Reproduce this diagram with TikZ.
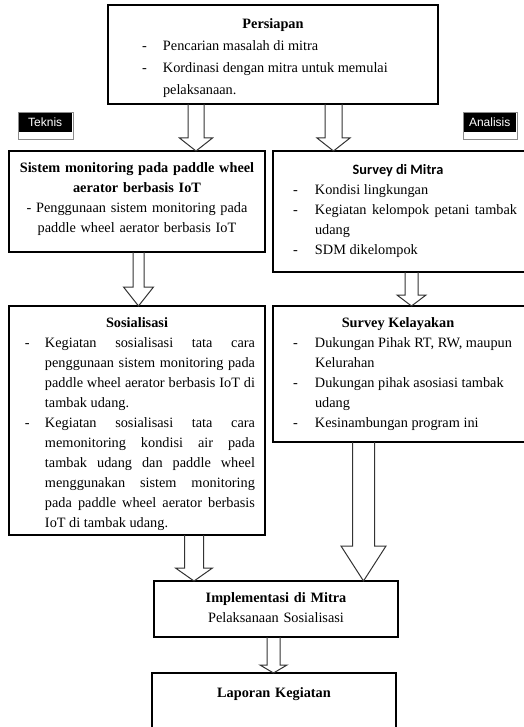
\documentclass[tikz,border=0pt]{standalone}
\usepackage{fontspec}
\setmainfont{Liberation Serif}
\newfontfamily\labelfont{Liberation Sans}
\newfontfamily\calfont{Carlito}
\usetikzlibrary{calc}
\newcommand\dashitem[1]{\par\noindent\llap{\makebox[#1][l]{-}}}
\newcommand\blockarrow[6]{%
  \draw[arr] let \p1=(#2.south), \p2=(#3.north) in
    ({#1pt-#4pt},\y1) -- ({#1pt-#4pt},{\y2+#6pt}) -- ({#1pt-#5pt},{\y2+#6pt}) -- ({#1pt},\y2)
    -- ({#1pt+#5pt},{\y2+#6pt}) -- ({#1pt+#4pt},{\y2+#6pt}) -- ({#1pt+#4pt},\y1);}
\tikzset{
  box/.style={draw=black, line width=1.1pt, fill=white, inner sep=0pt, outer sep=0pt, anchor=north west},
  txt/.style={inner sep=0pt, anchor=north, font=\fontsize{14.3}{20}\selectfont},
  arr/.style={draw=black!80, line width=1pt, line join=miter},
  tag/.style={fill=black, text=white, inner sep=0pt, font=\labelfont\fontsize{12}{14}\selectfont},
  tagframe/.style={draw=black!45, line width=0.8pt, fill=white, inner sep=0pt, anchor=north west}
}
\begin{document}
\begin{tikzpicture}[x=1pt,y=1pt]
\useasboundingbox (0,0) rectangle (523,-727);
% boxes
\node[box, minimum width=330, minimum height=99] (persiapan) at (108,-5) {};
\node[box, minimum width=256, minimum height=101] (sistem) at (9,-151) {};
\node[box, minimum width=254, minimum height=121] (survey) at (273,-151) {};
\node[box, minimum width=256, minimum height=229] (sosial) at (9,-306) {};
\node[box, minimum width=254, minimum height=136] (kelayakan) at (273,-306) {};
\node[box, minimum width=244, minimum height=56] (impl) at (154,-581) {};
\node[box, minimum width=244, minimum height=60] (laporan) at (152,-673) {};
% tags
\node[tagframe, minimum width=55, minimum height=27] (teknisframe) at (18,-112) {};
\node[tag, minimum width=53, minimum height=19, anchor=north west] (teknis) at (18.5,-112.5) {Teknis};
\node[tagframe, minimum width=54, minimum height=27] (analisisframe) at (463,-112) {};
\node[tag, minimum width=52, minimum height=19, anchor=north west] (analisis) at (463.5,-112.5) {Analisis};
% texts
\node[txt, font=\fontsize{14.3}{22}\selectfont] (persiapanT) at (273,-13) {%
  \begin{minipage}[t]{330pt}
  {\centering\bfseries\strut Persiapan\par}
  \leftskip=55pt \rightskip=0pt plus 1fil\relax
  \dashitem{21pt}Pencarian masalah di mitra
  \dashitem{21pt}Kordinasi dengan mitra untuk memulai\newline pelaksanaan.\par
  \end{minipage}};
\node[txt, text width=256pt, align=center] (sistemT) at (137,-158) {%
  \strut\textbf{Sistem monitoring pada paddle wheel}\\
  \textbf{aerator berbasis IoT}\\
  - Penggunaan sistem monitoring pada\\
  paddle wheel aerator berbasis IoT};
\node[txt] (surveyT) at (398,-160) {%
  \begin{minipage}[t]{250pt}
  {\centering\calfont\bfseries\strut Survey di Mitra\par}
  \leftskip=42pt \rightskip=6pt\relax
  \dashitem{22pt}Kondisi lingkungan
  \dashitem{22pt}Kegiatan kelompok petani tambak\linebreak udang
  \dashitem{22pt}SDM dikelompok\par
  \end{minipage}};
\node[txt] (sosialT) at (137,-313) {%
  \begin{minipage}[t]{256pt}
  {\centering\bfseries\strut Sosialisasi\par}
  \leftskip=36pt \rightskip=10pt\relax
  \dashitem{20pt}Kegiatan sosialisasi tata cara\linebreak
  penggunaan sistem monitoring pada\linebreak
  paddle wheel aerator berbasis IoT di\linebreak
  tambak udang.
  \dashitem{20pt}Kegiatan sosialisasi tata cara\linebreak
  memonitoring kondisi air pada\linebreak
  tambak udang dan paddle wheel\linebreak
  menggunakan sistem monitoring\linebreak
  pada paddle wheel aerator berbasis\linebreak
  IoT di tambak udang.\par
  \end{minipage}};
\node[txt] (kelayakanT) at (398,-313) {%
  \begin{minipage}[t]{250pt}
  {\centering\bfseries\strut Survey Kelayakan\par}
  \leftskip=42pt \rightskip=0pt plus 1fil\relax
  \dashitem{22pt}Dukungan Pihak RT, RW, maupun\newline Kelurahan
  \dashitem{22pt}Dukungan pihak asosiasi tambak\newline udang
  \dashitem{22pt}Kesinambungan program ini\par
  \end{minipage}};
\node[txt, text width=244pt, align=center] (implT) at (276,-588) {%
  \strut\textbf{Implementasi di Mitra}\\
  Pelaksanaan Sosialisasi};
\node[txt, text width=244pt, align=center] (laporanT) at (274,-683) {%
  \strut\textbf{Laporan Kegiatan}};
% block arrows
\blockarrow{196}{persiapan}{sistem}{8}{16.5}{13}
\blockarrow{333.5}{persiapan}{survey}{8.5}{16.5}{13}
\blockarrow{138.5}{sistem}{sosial}{5.5}{15}{19}
\blockarrow{411.5}{survey}{kelayakan}{6.5}{14.5}{11}
\blockarrow{194}{sosial}{impl}{9.5}{18.5}{13}
\blockarrow{363.5}{kelayakan}{impl}{11}{22.5}{35}
\blockarrow{273.5}{impl}{laporan}{6.5}{13.5}{8}
\end{tikzpicture}
\end{document}
